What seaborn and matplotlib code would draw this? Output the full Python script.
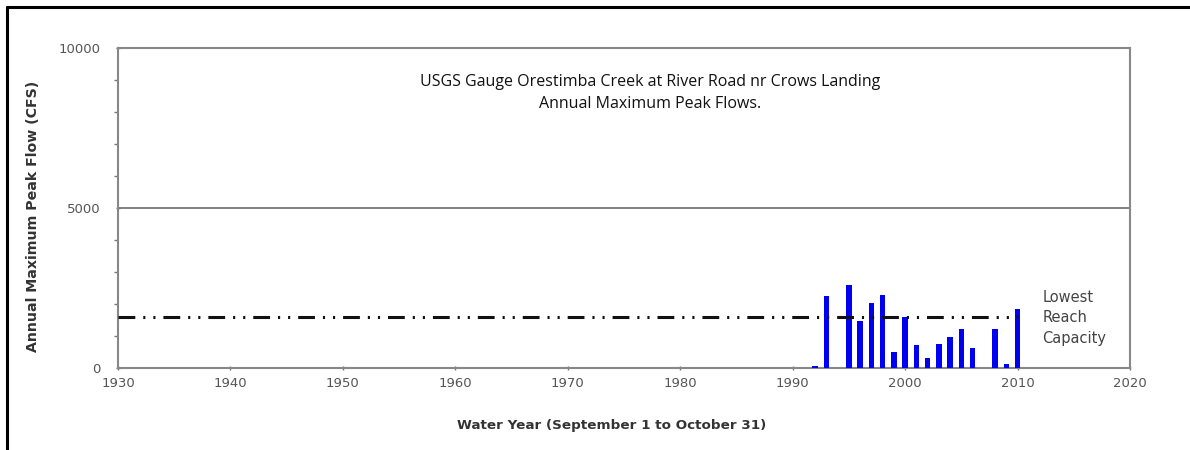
import matplotlib
matplotlib.use("Agg")
import matplotlib.pyplot as plt
import seaborn as sns
import pandas as pd
from matplotlib.lines import Line2D
from matplotlib.ticker import MultipleLocator

years = [1992, 1993, 1995, 1996, 1997, 1998, 1999, 2000, 2001, 2002, 2003,
         2004, 2005, 2006, 2008, 2009, 2010]
peak_flows = [50, 2250, 2590, 1480, 2040, 2280, 510, 1590, 720, 300, 740,
              960, 1210, 640, 1210, 110, 1830]
capacity_years = [1930, 2010]
capacity_values = [1600, 1600]
x_ticks = [1930, 1940, 1950, 1960, 1970, 1980, 1990, 2000, 2010, 2020]
y_ticks = [0, 5000, 10000]
title_lines = "USGS Gauge Orestimba Creek at River Road nr Crows Landing\nAnnual Maximum Peak Flows."
capacity_label = "Lowest\nReach\nCapacity"

sns.set_theme(style="white")
plt.rcParams['font.family'] = ['DejaVu Sans']

df = pd.DataFrame({"year": years, "flow": peak_flows})
cap = pd.DataFrame({"year": capacity_years, "flow": capacity_values})

fig = plt.figure(figsize=(11.9, 4.5), dpi=100)
ax = fig.add_axes([118/1190, 1-368/450, (1130-118)/1190, (368-48)/450])

sns.barplot(data=df, x="year", y="flow", native_scale=True, width=0.5,
            color="#0000f0", saturation=1, linewidth=0, ax=ax, zorder=3)
sns.lineplot(data=cap, x="year", y="flow", ax=ax, color="#111111",
             linewidth=2.2, zorder=4)
ax.lines[-1].set_linestyle((0, (5.5, 2.6, 0.7, 2.6, 0.7, 2.6)))

ax.set_xlim(1930, 2020)
ax.set_ylim(0, 10000)
ax.set_xticks(x_ticks)
ax.set_yticks(y_ticks)
ax.yaxis.set_minor_locator(MultipleLocator(1000))
ax.tick_params(axis='both', which='major', labelsize=9.5, labelcolor="#555555",
               color="#777777", length=3, width=1, direction='inout')
ax.tick_params(axis='y', which='minor', length=3, width=1, color="#777777",
               direction='out', left=True)
ax.tick_params(axis='x', which='major', bottom=True, pad=5)
ax.tick_params(axis='y', which='major', left=True, pad=11)

ax.axhline(5000, color="#777777", linewidth=1.3, zorder=1)
for s in ax.spines.values():
    s.set_color("#888888")
    s.set_linewidth(1.5)

ax.set_xlabel("Water Year (September 1 to October 31)", fontsize=9.7,
              fontweight='bold', color="#333333")
ax.set_ylabel("Annual Maximum Peak Flow (CFS)", fontsize=10.2,
              fontweight='bold', color="#333333")
ax.xaxis.set_label_coords(0.488, -0.16)
ax.yaxis.set_label_coords(-0.077, 0.475)

ax.text(0.526, 0.859, title_lines, transform=ax.transAxes, ha='center',
        va='center', fontsize=11.5, color="#111111", linespacing=1.45,
        family=['Open Sans', 'DejaVu Sans'])
ax.text(2012.2, 1570, capacity_label, ha='left', va='center', fontsize=10.5,
        color="#444444", linespacing=1.45)

fig.add_artist(Line2D([7/1190, 1], [1-7/450, 1-7/450], color='black',
                      linewidth=2.2, transform=fig.transFigure))
fig.add_artist(Line2D([7/1190, 7/1190], [0, 1-7/450], color='black',
                      linewidth=2.2, transform=fig.transFigure))

fig.savefig("out.png", dpi=100)
